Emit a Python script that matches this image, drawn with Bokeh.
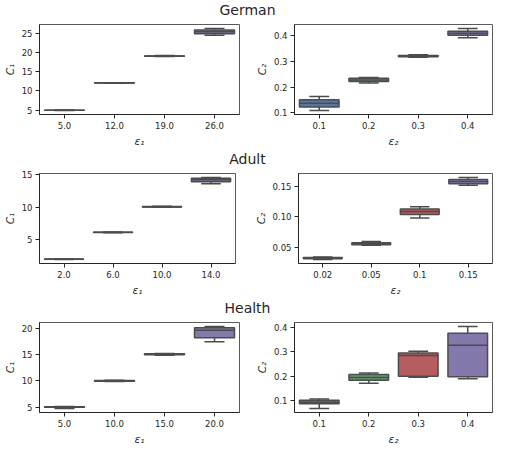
import numpy as np
from bokeh.plotting import figure
from bokeh.layouts import column, row
from bokeh.models import Range1d, FixedTicker
from bokeh.core.properties import value
from bokeh.embed import file_html
from bokeh.resources import INLINE

# ---------------- data ----------------
dataset_titles = ["German", "Adult", "Health"]

# German
german_eps1 = ["5.0", "12.0", "19.0", "26.0"]
german_c1_lo = [4.95, 12.05, 18.95, 24.5]
german_c1_q1 = [4.97, 12.08, 19.0, 24.85]
german_c1_med = [5.0, 12.1, 19.05, 25.35]
german_c1_q3 = [5.02, 12.12, 19.1, 25.85]
german_c1_hi = [5.05, 12.15, 19.2, 26.2]
german_c1_ticks = [5, 10, 15, 20, 25]
german_c1_labels = ["5", "10", "15", "20", "25"]

german_eps2 = ["0.1", "0.2", "0.3", "0.4"]
german_c2_lo = [0.110, 0.2165, 0.317, 0.392]
german_c2_q1 = [0.123, 0.222, 0.319, 0.402]
german_c2_med = [0.138, 0.228, 0.321, 0.410]
german_c2_q3 = [0.151, 0.2346, 0.323, 0.418]
german_c2_hi = [0.164, 0.238, 0.326, 0.428]
german_c2_ticks = [0.1, 0.2, 0.3, 0.4]
german_c2_labels = ["0.1", "0.2", "0.3", "0.4"]

# Adult
adult_eps1 = ["2.0", "6.0", "10.0", "14.0"]
adult_c1_lo = [2.0, 6.1, 10.0, 13.6]
adult_c1_q1 = [2.02, 6.12, 10.02, 13.92]
adult_c1_med = [2.04, 6.15, 10.05, 14.2]
adult_c1_q3 = [2.06, 6.18, 10.1, 14.45]
adult_c1_hi = [2.08, 6.2, 10.15, 14.55]
adult_c1_ticks = [5, 10, 15]
adult_c1_labels = ["5", "10", "15"]

adult_eps2 = ["0.02", "0.05", "0.1", "0.15"]
adult_c2_lo = [0.031, 0.054, 0.0984, 0.1516]
adult_c2_q1 = [0.032, 0.055, 0.104, 0.154]
adult_c2_med = [0.033, 0.057, 0.109, 0.1575]
adult_c2_q3 = [0.034, 0.058, 0.113, 0.161]
adult_c2_hi = [0.035, 0.060, 0.1166, 0.164]
adult_c2_ticks = [0.05, 0.10, 0.15]
adult_c2_labels = ["0.05", "0.10", "0.15"]

# Health
health_eps1 = ["5.0", "10.0", "15.0", "20.0"]
health_c1_lo = [4.75, 9.85, 14.85, 17.4]
health_c1_q1 = [4.95, 9.9, 14.95, 18.2]
health_c1_med = [5.0, 10.0, 15.05, 19.6]
health_c1_q3 = [5.05, 10.05, 15.15, 20.1]
health_c1_hi = [5.1, 10.08, 15.2, 20.3]
health_c1_ticks = [5, 10, 15, 20]
health_c1_labels = ["5", "10", "15", "20"]

health_eps2 = ["0.1", "0.2", "0.3", "0.4"]
health_c2_lo = [0.068, 0.171, 0.196, 0.190]
health_c2_q1 = [0.087, 0.184, 0.200, 0.198]
health_c2_med = [0.093, 0.195, 0.285, 0.327]
health_c2_q3 = [0.101, 0.207, 0.296, 0.377]
health_c2_hi = [0.107, 0.213, 0.303, 0.404]
health_c2_ticks = [0.1, 0.2, 0.3, 0.4]
health_c2_labels = ["0.1", "0.2", "0.3", "0.4"]

palette = ["#5875a4", "#5f9e6e", "#b55d60", "#8478ad"]

# ---------------- style ----------------
EDGE = "#4c4c4c"
LW = 1.5
TXT = "#262626"
FONT = "DejaVu Sans"
BOX_W = 0.8


def title_fig(text, width):
    p = figure(width=width, height=18, x_range=Range1d(0, 1), y_range=Range1d(0, 1),
               toolbar_location=None, output_backend="svg", min_border=0)
    p.axis.visible = False
    p.grid.visible = False
    p.outline_line_color = None
    p.text(x=[0.5], y=[0.45], text=[text], text_align="center", text_baseline="middle",
           text_font=value(FONT), text_font_size="14px", text_color=TXT)
    return p


def box_panel(cats, lo, q1, med, q3, hi, ticks, labels, xlabel, ylabel,
              width, height, bl, br):
    n = len(cats)
    x = np.arange(n)
    lo, q1, med, q3, hi = map(np.asarray, (lo, q1, med, q3, hi))
    dmin, dmax = lo.min(), hi.max()
    pad = 0.05 * (dmax - dmin)
    p = figure(width=width, height=height,
               x_range=Range1d(-0.5, n - 0.5),
               y_range=Range1d(dmin - pad, dmax + pad),
               toolbar_location=None, output_backend="svg",
               min_border_left=bl, min_border_right=br,
               min_border_top=6, min_border_bottom=34)
    # whiskers
    p.segment(x0=x, y0=q3, x1=x, y1=hi, line_color=EDGE, line_width=LW)
    p.segment(x0=x, y0=lo, x1=x, y1=q1, line_color=EDGE, line_width=LW)
    p.segment(x0=x - BOX_W / 4, y0=hi, x1=x + BOX_W / 4, y1=hi, line_color=EDGE, line_width=LW)
    p.segment(x0=x - BOX_W / 4, y0=lo, x1=x + BOX_W / 4, y1=lo, line_color=EDGE, line_width=LW)
    # boxes
    p.vbar(x=x, width=BOX_W, bottom=q1, top=q3, fill_color=palette[:n],
           line_color=EDGE, line_width=LW)
    # medians
    p.segment(x0=x - BOX_W / 2, y0=med, x1=x + BOX_W / 2, y1=med, line_color=EDGE, line_width=LW)

    p.grid.visible = False
    p.outline_line_color = "#5a5a5a"
    p.outline_line_width = 1
    p.background_fill_color = "white"

    p.xaxis.ticker = FixedTicker(ticks=list(x))
    p.xaxis.major_label_overrides = {int(i): c for i, c in zip(x, cats)}
    p.yaxis.ticker = FixedTicker(ticks=list(ticks))
    p.yaxis.major_label_overrides = {t: l for t, l in zip(ticks, labels)}

    for ax in (p.xaxis[0], p.yaxis[0]):
        ax.axis_line_color = TXT
        ax.axis_line_width = 1
        ax.major_tick_line_color = TXT
        ax.major_tick_out = 4
        ax.major_tick_in = 0
        ax.minor_tick_line_color = None
        ax.major_label_text_font = FONT
        ax.major_label_text_font_size = "8.5px"
        ax.major_label_text_color = TXT
        ax.major_label_standoff = 3
        ax.axis_label_text_font = FONT
        ax.axis_label_text_font_size = "10.5px"
        ax.axis_label_text_font_style = "italic"
        ax.axis_label_text_color = TXT
        ax.axis_label_standoff = 3
    p.xaxis.axis_label = xlabel
    p.yaxis.axis_label = ylabel
    return p


H = 131
X1, Y1 = "\u03b5\u2081", "C\u2081"
X2, Y2 = "\u03b5\u2082", "C\u2082"

g1 = box_panel(german_eps1, german_c1_lo, german_c1_q1, german_c1_med, german_c1_q3, german_c1_hi,
               german_c1_ticks, german_c1_labels, X1, Y1, 244, H, 34, 5)
g2 = box_panel(german_eps2, german_c2_lo, german_c2_q1, german_c2_med, german_c2_q3, german_c2_hi,
               german_c2_ticks, german_c2_labels, X2, Y2, 250, H, 50, 2)
a1 = box_panel(adult_eps1, adult_c1_lo, adult_c1_q1, adult_c1_med, adult_c1_q3, adult_c1_hi,
               adult_c1_ticks, adult_c1_labels, X1, Y1, 240, H, 34, 5)
a2 = box_panel(adult_eps2, adult_c2_lo, adult_c2_q1, adult_c2_med, adult_c2_q3, adult_c2_hi,
               adult_c2_ticks, adult_c2_labels, X2, Y2, 254, H, 58, 2)
h1 = box_panel(health_eps1, health_c1_lo, health_c1_q1, health_c1_med, health_c1_q3, health_c1_hi,
               health_c1_ticks, health_c1_labels, X1, Y1, 244, H, 34, 5)
h2 = box_panel(health_eps2, health_c2_lo, health_c2_q1, health_c2_med, health_c2_q3, health_c2_hi,
               health_c2_ticks, health_c2_labels, X2, Y2, 250, H, 50, 2)

layout = column(
    title_fig(dataset_titles[0], 494), row(g1, g2),
    title_fig(dataset_titles[1], 494), row(a1, a2),
    title_fig(dataset_titles[2], 494), row(h1, h2),
)

open("out.html", "w").write(file_html(layout, INLINE))
